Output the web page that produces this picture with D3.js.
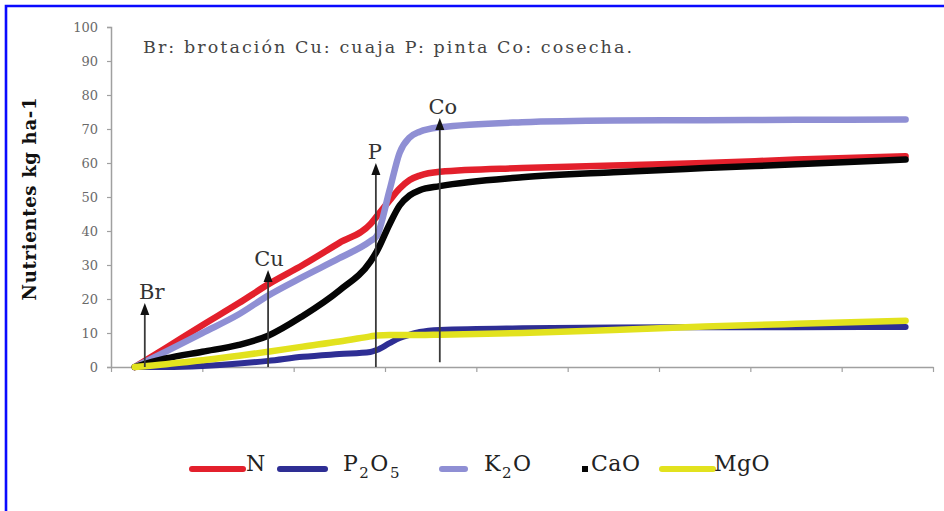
<!DOCTYPE html>
<html>
<head>
<meta charset="utf-8">
<script src="https://cdn.jsdelivr.net/npm/d3@7"></script>
<style>
	body { margin: 0; background: #fff; }
	text { font-family: "DejaVu Serif", "Liberation Serif", serif; }
</style>
</head>
<body>
<div id="svgholder"></div>
<script>

// x positions (units along the season), shared by every series
var xs = [2.6, 6, 10, 14, 17.2, 21, 25, 28.4, 29.1, 30.5, 31.6, 32.7, 33.8, 36, 45, 55, 65, 75, 87];

var nVals   = [0, 5.6, 12.3, 18.8, 24.3, 30, 36.5, 42, 44.3, 49, 52.5, 55, 56.3, 57.4, 58.5, 59.3, 60, 61, 62];
var p2o5    = [0, 0, 0.3, 1, 1.8, 3, 3.8, 4.4, 5, 7, 8.5, 9.5, 10.3, 10.9, 11.4, 11.6, 11.7, 11.7, 11.8];
var k2o     = [0, 4.5, 10, 15.5, 21, 26.5, 32, 37, 38.5, 52, 63, 67.5, 69.2, 70.5, 72, 72.5, 72.6, 72.7, 72.8];
var cao     = [0, 2.5, 4.5, 6.5, 9.2, 15, 22.5, 31, 34, 42, 47.5, 50.5, 52, 53.2, 55.8, 57.3, 58.5, 59.6, 61];
var mgo     = [0, 0.8, 2, 3.3, 4.5, 6, 7.5, 9, 9.3, 9.4, 9.4, 9.4, 9.4, 9.5, 10, 10.9, 11.9, 12.7, 13.6];

var seriesNames  = ["N", "P2O5", "K2O", "CaO", "MgO"];
var seriesValues = [nVals, p2o5, k2o, cao, mgo];
var seriesColors = ["#e3202c", "#2e2e94", "#8f8fd4", "#050505", "#e2e21e"];

var yTicks = [0, 10, 20, 30, 40, 50, 60, 70, 80, 90, 100];
var xTicks = [0, 10, 20, 30, 40, 50, 60, 70, 80, 90];

// phenological stages: label, x position, arrow top value
var stageLabels = ["Br", "Cu", "P", "Co"];
var stageX      = [3.7, 17.2, 29.0, 36.0];
var stageTop    = [18.8, 28.5, 60, 73.2];

var note = "Br: brotación Cu: cuaja P: pinta Co: cosecha.";

var g = {
	width: 944,
	height: 511,
	plot: {left: 111, right: 933, top: 27, bottom: 367},
	lineW: 6.5
};

var svg = d3.select("#svgholder").append("svg")
	.attr("width", g.width)
	.attr("height", g.height);

svg.append("rect").attr("width", g.width).attr("height", g.height).attr("fill", "#fff");

// blue frame (only top and left edges are inside the picture)
svg.append("path")
	.attr("d", "M6,511 L6,6 L944,6")
	.attr("fill", "none")
	.attr("stroke", "#0a0aff")
	.attr("stroke-width", 2.6);

var x = d3.scaleLinear().domain([0, 90]).range([g.plot.left, g.plot.right]);
var y = d3.scaleLinear().domain([0, 100]).range([g.plot.bottom, g.plot.top]);

// y axis
var yAxis = svg.append("g")
	.attr("transform", "translate(" + g.plot.left + ",0)")
	.call(d3.axisLeft(y).tickValues(yTicks).tickSize(4).tickPadding(9));
yAxis.select(".domain").attr("stroke", "#a0a0a0").attr("stroke-width", 1.5);
yAxis.selectAll(".tick line").attr("stroke", "#a0a0a0").attr("stroke-width", 1.2);
yAxis.selectAll(".tick text")
	.attr("fill", "#6a6a6a")
	.style("font-size", "13px")
	.style("font-family", "DejaVu Serif");

// x axis, tick marks only
var xAxis = svg.append("g")
	.attr("transform", "translate(0," + g.plot.bottom + ")")
	.call(d3.axisBottom(x).tickValues(xTicks).tickSize(5).tickSizeOuter(0).tickFormat(""));
xAxis.select(".domain").attr("stroke", "#a0a0a0").attr("stroke-width", 1.5);
xAxis.selectAll(".tick line").attr("stroke", "#a0a0a0").attr("stroke-width", 1.2);

svg.append("text")
	.attr("transform", "translate(36,199) rotate(-90)")
	.attr("text-anchor", "middle")
	.attr("textLength", 203)
	.attr("lengthAdjust", "spacing")
	.style("font-size", "18px")
	.style("font-weight", "bold")
	.attr("fill", "#111")
	.text("Nutrientes kg ha-1");

svg.append("text")
	.attr("x", 143)
	.attr("y", 53)
	.attr("textLength", 489)
	.attr("lengthAdjust", "spacing")
	.style("font-size", "17.5px")
	.attr("fill", "#444")
	.text(note);

var line = d3.line()
	.x(function(d) { return x(d[0]); })
	.y(function(d) { return y(d[1]); })
	.curve(d3.curveMonotoneX);

seriesValues.forEach(function(vals, i) {
	svg.append("path")
		.datum(xs.map(function(v, j) { return [v, vals[j]]; }))
		.attr("d", line)
		.attr("fill", "none")
		.attr("stroke", seriesColors[i])
		.attr("stroke-width", i == 1 ? 6 : g.lineW)
		.attr("stroke-linecap", "round")
		.attr("stroke-linejoin", "round");
});

// stage arrows
var stageBase = [0, 0, 0, 1.4];
var labelDx = [7, 1, -1, 3];

stageLabels.forEach(function(s, i) {
	var ax = x(stageX[i]), tip = y(stageTop[i]);
	svg.append("line")
		.attr("x1", ax)
		.attr("x2", ax)
		.attr("y1", y(stageBase[i]))
		.attr("y2", tip + 8)
		.attr("stroke", "#3a3a3a")
		.attr("stroke-width", 1.8);
	svg.append("path")
		.attr("d", "M" + ax + "," + tip + " L" + (ax + 4.5) + "," + (tip + 12) + " L" + (ax - 4.5) + "," + (tip + 12) + " Z")
		.attr("fill", "#111");
	svg.append("text")
		.attr("x", ax + labelDx[i])
		.attr("y", tip - 4)
		.attr("text-anchor", "middle")
		.style("font-size", "21px")
		.attr("fill", "#333")
		.text(s);
});

// legend
var legSwatch = [[192, 243], [280, 325], [442, 465], [582, 588], [662, 713]];
var legTextX = [245, 342, 483, 590, 713];
var legY = 469;

var leg = svg.append("g");
seriesNames.forEach(function(name, i) {
	if (i == 3) {
		leg.append("rect")
			.attr("x", legSwatch[i][0])
			.attr("y", legY - 3)
			.attr("width", 6)
			.attr("height", 6)
			.attr("fill", seriesColors[i]);
	} else {
		leg.append("line")
			.attr("x1", legSwatch[i][0])
			.attr("x2", legSwatch[i][1])
			.attr("y1", legY)
			.attr("y2", legY)
			.attr("stroke", seriesColors[i])
			.attr("stroke-width", 6)
			.attr("stroke-linecap", "round");
	}
	var t = leg.append("text")
		.attr("x", legTextX[i])
		.attr("y", legY + 9)
		.style("font-size", "22px")
		.style("letter-spacing", "0.5px")
		.attr("fill", "#222");
	// chemical formulas: digits go to subscript
	name.split(/(\d)/).forEach(function(part) {
		if (part === "") return;
		if (/\d/.test(part)) {
			t.append("tspan").attr("dy", 7).attr("dx", 1).style("font-size", "15px").text(part);
		} else {
			t.append("tspan").attr("dy", t.selectAll("tspan").size() ? -7 : 0).attr("dx", t.selectAll("tspan").size() ? 1 : 0).text(part);
		}
	});
});

</script>
</body>
</html>
